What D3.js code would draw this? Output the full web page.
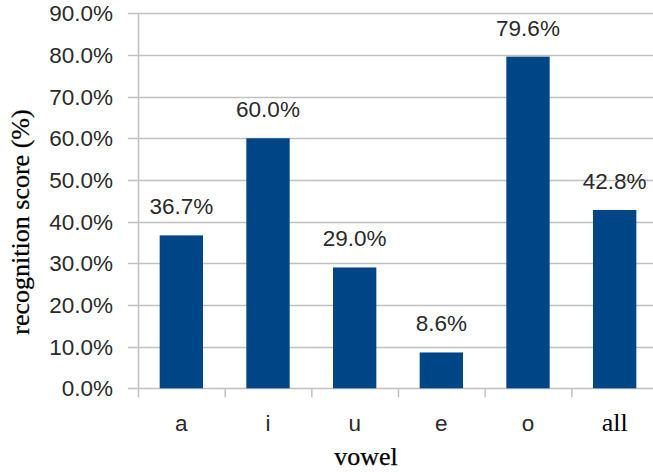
<!DOCTYPE html>
<html><head><meta charset="utf-8">
<script src="https://cdn.jsdelivr.net/npm/d3@7"></script>
<style>body{margin:0;background:#fff}</style>
</head><body>
<svg id="chart" width="653" height="472"></svg>
<script>
const categories = ["a", "i", "u", "e", "o", "all"];
const values = [36.7, 60.0, 29.0, 8.6, 79.6, 42.8];
const yTicks = [0, 10, 20, 30, 40, 50, 60, 70, 80, 90];
const yTitle = "recognition score (%)";
const xTitle = "vowel";

(function () {
const svg = d3.select("#chart");
const pLeft = 138, pRight = 658, pTop = 13.3, pBottom = 388.3;
const x = d3.scaleBand().domain(categories).range([pLeft, pRight]).paddingInner(0).paddingOuter(0);
const y = d3.scaleLinear().domain([0, 90]).range([pBottom, pTop]);
const grid = "#c0c0c0";
const sans = "'Liberation Sans', Arial, sans-serif";
const serif = "'Liberation Serif', 'Times New Roman', serif";
const textCol = "#2a2a2a";

// gridlines
svg.append("g").selectAll("line").data(yTicks).join("line")
  .attr("x1", pLeft - 10).attr("x2", 653)
  .attr("y1", d => Math.round(y(d)) + 0.5).attr("y2", d => Math.round(y(d)) + 0.5)
  .attr("stroke", grid).attr("stroke-width", 1.5);

// y tick labels
svg.append("g").selectAll("text").data(yTicks).join("text")
  .attr("x", 113).attr("y", d => y(d) + 8)
  .attr("text-anchor", "end")
  .attr("font-family", sans).attr("font-size", 22.5).attr("fill", textCol)
  .text(d => d.toFixed(1) + "%");

// bars
const bw = x.bandwidth() * 0.5;
svg.append("g").selectAll("rect").data(values).join("rect")
  .attr("x", (d, i) => x(categories[i]) + (x.bandwidth() - bw) / 2)
  .attr("width", bw)
  .attr("y", d => y(d))
  .attr("height", d => y(0) - y(d))
  .attr("fill", "#004586");

// axes lines
svg.append("line").attr("x1", pLeft + 0.5).attr("x2", pLeft + 0.5).attr("y1", pTop).attr("y2", pBottom + 9)
  .attr("stroke", grid).attr("stroke-width", 1.5);
svg.append("g").selectAll("line").data(categories.slice(1)).join("line")
  .attr("x1", d => x(d) + 0.5).attr("x2", d => x(d) + 0.5)
  .attr("y1", pBottom).attr("y2", pBottom + 9)
  .attr("stroke", grid).attr("stroke-width", 1.5);

// value labels
svg.append("g").selectAll("text").data(values).join("text")
  .attr("x", (d, i) => x(categories[i]) + x.bandwidth() / 2)
  .attr("y", d => y(d) - 21)
  .attr("text-anchor", "middle")
  .attr("font-family", sans).attr("font-size", 22.5).attr("fill", textCol)
  .text(d => d.toFixed(1) + "%");

// category labels
svg.append("g").selectAll("text").data(categories).join("text")
  .attr("x", d => x(d) + x.bandwidth() / 2)
  .attr("y", 431)
  .attr("text-anchor", "middle")
  .attr("font-family", d => d === "all" ? serif : sans)
  .attr("font-size", d => d === "all" ? 26 : 22.5)
  .attr("fill", d => d === "all" ? "#000" : textCol)
  .text(d => d);

// axis titles
svg.append("text").attr("x", 366).attr("y", 465)
  .attr("text-anchor", "middle").attr("font-family", serif).attr("font-size", 26)
  .attr("fill", "#000").attr("stroke", "#000").attr("stroke-width", 0.25).text(xTitle);
svg.append("text").attr("transform", "translate(29,222) rotate(-90)")
  .attr("text-anchor", "middle").attr("font-family", serif).attr("font-size", 26)
  .attr("fill", "#000").attr("stroke", "#000").attr("stroke-width", 0.25).text(yTitle);
})();
</script>
</body></html>
